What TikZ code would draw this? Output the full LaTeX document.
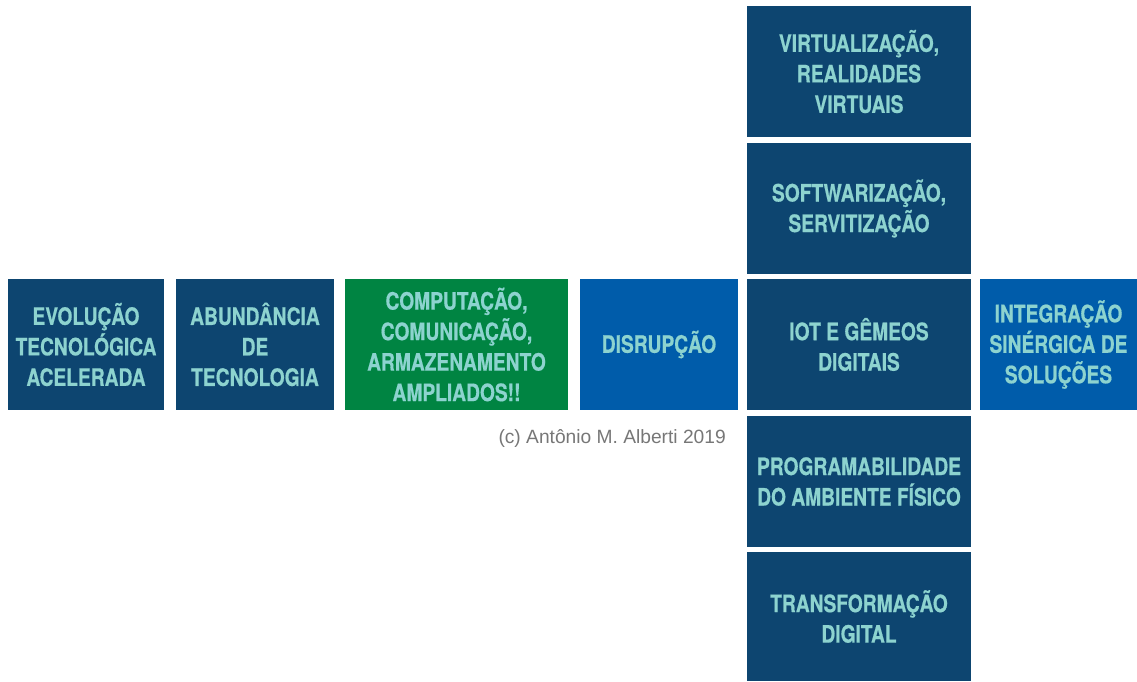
\documentclass[tikz,border=0pt]{standalone}
\usepackage{fontspec}
\setmainfont{TeX Gyre Heros}
\newfontfamily\condfont[FakeStretch=0.8, BoldFeatures={FakeBold=0.6}]{TeX Gyre Heros}
\newfontfamily\lightfont{Liberation Sans}
\definecolor{navy}{HTML}{0D4570}
\definecolor{midblue}{HTML}{005CAA}
\definecolor{leaf}{HTML}{008442}
\definecolor{teal}{HTML}{8DD3CF}
\definecolor{credit}{HTML}{777777}
\begin{document}
\begin{tikzpicture}[x=1pt,y=-1pt,
  tile/.style={rectangle, inner sep=0pt, minimum height=131pt, align=center,
    text=teal, font=\condfont\bfseries\fontsize{24}{30.5}\selectfont},
  navytile/.style={tile, fill=navy},
  bluetile/.style={tile, fill=midblue},
  greentile/.style={tile, fill=leaf}]
\useasboundingbox (0,0) rectangle (1137,681);
\node[navytile, minimum width=156pt] (evo) at (86,344.5) {EVOLUÇÃO\\TECNOLÓGICA\\ACELERADA};
\node[navytile, minimum width=158pt] (abu) at (255,344.5) {ABUNDÂNCIA\\DE\\TECNOLOGIA};
\node[greentile, minimum width=223pt] (comp) at (456.5,344.5) {COMPUTAÇÃO,\\COMUNICAÇÃO,\\ARMAZENAMENTO\\AMPLIADOS!!};
\node[bluetile, minimum width=158pt] (dis) at (659,344.5) {DISRUPÇÃO};
\node[navytile, minimum width=224pt] (virt) at (859,71.5) {VIRTUALIZAÇÃO,\\REALIDADES\\VIRTUAIS};
\node[navytile, minimum width=224pt] (soft) at (859,208.5) {SOFTWARIZAÇÃO,\\SERVITIZAÇÃO};
\node[navytile, minimum width=224pt] (iot) at (859,344.5) {IOT E GÊMEOS\\DIGITAIS};
\node[navytile, minimum width=224pt] (prog) at (859,481.5) {PROGRAMABILIDADE\\DO AMBIENTE FÍSICO};
\node[navytile, minimum width=224pt, minimum height=129pt] (trans) at (859,616.5) {TRANSFORMAÇÃO\\DIGITAL};
\node[bluetile, minimum width=157pt] (integ) at (1058.5,344.5) {INTEGRAÇÃO\\SINÉRGICA DE\\SOLUÇÕES};
\node[anchor=east, inner sep=0pt, text=credit, font=\lightfont\fontsize{19.2}{22}\selectfont] (copy) at (726,438) {(c) Antônio M. Alberti 2019};
\end{tikzpicture}
\end{document}
